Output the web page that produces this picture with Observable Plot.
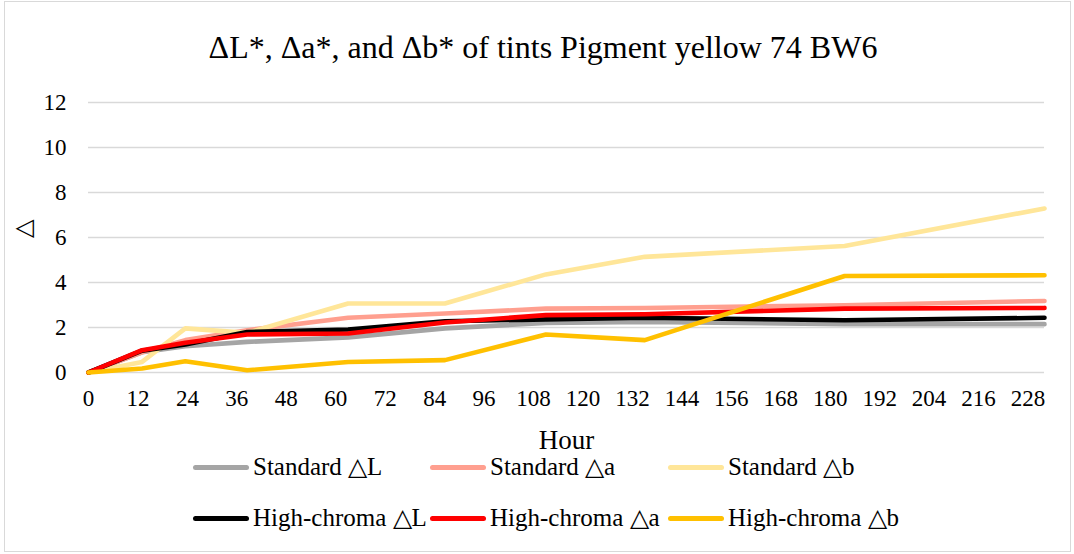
<!DOCTYPE html>
<html><head><meta charset="utf-8">
<script src="https://cdn.jsdelivr.net/npm/d3@7"></script>
<script src="https://cdn.jsdelivr.net/npm/@observablehq/plot@0.6"></script>
<style>
body{margin:0;background:#fff;}
#chart{position:relative;width:1074px;height:554px;font-family:"Liberation Serif","Times New Roman",serif;color:#000;overflow:hidden;background:#fff}
#frame{position:absolute;left:4px;top:1px;right:3px;bottom:2px;border:1px solid #d9d9d9;pointer-events:none}
#title{position:absolute;left:6px;top:29px;width:1074px;text-align:center;font-size:32px;line-height:36px;white-space:nowrap}
#plot{position:absolute;left:0;top:80px}
.leg{position:absolute;display:flex;align-items:center;font-size:25px;line-height:26px;white-space:nowrap}
.sw{display:inline-block;width:56px;height:5px;border-radius:3px;margin-right:4px}
</style></head>
<body>
<div id="chart">
  <div id="title">ΔL*, Δa*, and Δb* of tints Pigment yellow 74 BW6</div>
  <div id="plot"></div>
  <div id="legend"></div>
  <div id="frame"></div>
</div>
<script>
// ---- data ----
const hours = [0, 13, 23.5, 38.5, 63, 86.5, 111, 135, 183.5, 232];
const seriesNames = ["Standard △L", "Standard △a", "Standard △b", "High-chroma △L", "High-chroma △a", "High-chroma △b"];
const seriesColors = ["#a5a5a5", "#ff9f8f", "#ffe699", "#000000", "#ff0000", "#ffc000"];
const standardL = [0, 0.90, 1.17, 1.36, 1.56, 1.96, 2.20, 2.25, 2.15, 2.15];
const standardA = [0, 0.90, 1.44, 1.88, 2.43, 2.62, 2.84, 2.87, 2.99, 3.18];
const standardB = [0, 0.47, 1.96, 1.76, 3.07, 3.07, 4.36, 5.14, 5.62, 7.29];
const highL = [0, 0.97, 1.25, 1.80, 1.91, 2.28, 2.36, 2.43, 2.32, 2.43];
const highA = [0, 0.99, 1.32, 1.69, 1.73, 2.22, 2.55, 2.59, 2.84, 2.87];
const highB = [0, 0.18, 0.50, 0.10, 0.47, 0.55, 1.69, 1.44, 4.29, 4.32];
const xTicks = d3.range(0, 229, 12);
const yTicks = [0, 2, 4, 6, 8, 10, 12];
const xLabel = "Hour";
const yLabel = "△";

const allSeries = [standardL, standardA, standardB, highL, highA, highB];
const rows = [];
allSeries.forEach((vals, i) => vals.forEach((v, j) => rows.push({series: seriesNames[i], hour: hours[j], value: v})));

const serif = '"Liberation Serif","Times New Roman",serif';
const chart = Plot.plot({
  width: 1074,
  height: 375,
  marginLeft: 88,
  marginRight: 30,
  marginTop: 22,
  marginBottom: 83,
  style: {fontFamily: serif, fontSize: "23px", color: "#000", background: "#fff", overflow: "visible"},
  x: {domain: [0, 232], ticks: xTicks, tickSize: 0, tickPadding: 17, label: null},
  y: {domain: [0, 12], ticks: yTicks, tickSize: 0, tickPadding: 22, label: null},
  color: {domain: seriesNames, range: seriesColors},
  marks: [
    Plot.ruleY(yTicks, {stroke: "#d9d9d9", strokeWidth: 1.3}),
    Plot.axisX({ticks: xTicks, tickSize: 0, tickPadding: 17, label: null, fontSize: 23, fontFamily: serif}),
    Plot.axisY({ticks: yTicks, tickSize: 0, tickPadding: 22, label: null, fontSize: 23, fontFamily: serif}),
    Plot.line(rows, {x: "hour", y: "value", z: "series", stroke: "series", strokeWidth: 4.6, strokeLinecap: "round", strokeLinejoin: "round"}),
    Plot.text([xLabel], {text: d => d, frameAnchor: "bottom", lineAnchor: "middle", dy: 68, fontSize: 27, fontFamily: serif}),
    Plot.text([yLabel], {text: d => d, frameAnchor: "left", lineAnchor: "middle", dx: -65, rotate: -90, fontSize: 24, fontFamily: serif})
  ]
});
document.getElementById("plot").appendChild(chart);

// legend
const legPos = [[193, 454], [430, 454], [668, 454], [193, 505], [430, 505], [668, 505]];
const legend = document.getElementById("legend");
seriesNames.forEach((name, i) => {
  const d = document.createElement("div");
  d.className = "leg";
  d.style.left = legPos[i][0] + "px";
  d.style.top = legPos[i][1] + "px";
  const s = document.createElement("span");
  s.className = "sw";
  s.style.background = seriesColors[i];
  const t = document.createElement("span");
  t.textContent = name;
  d.appendChild(s); d.appendChild(t);
  legend.appendChild(d);
});
</script>
</body></html>
